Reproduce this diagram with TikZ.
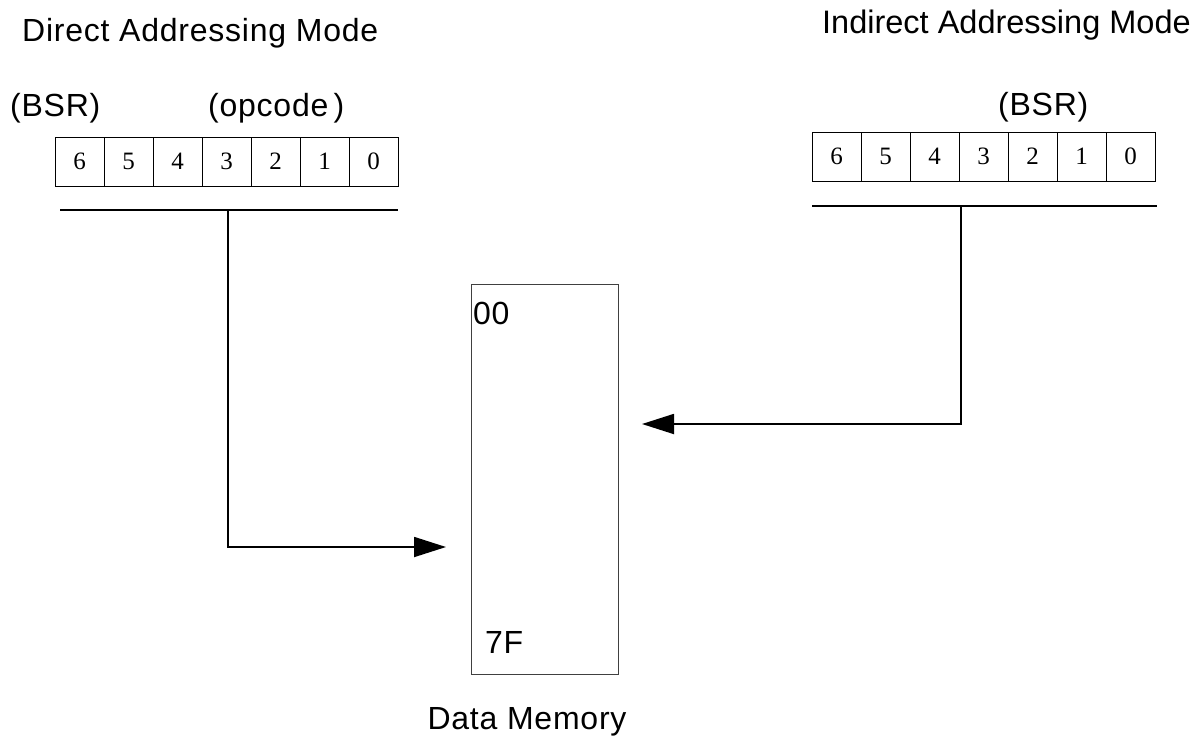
\documentclass[tikz,border=0pt]{standalone}
\usepackage{fontspec}
\setmainfont{Liberation Sans}
\newfontfamily\lblfont[LetterSpace=2.4]{Liberation Sans}
\newfontfamily\digitfont{Liberation Serif}
\usetikzlibrary{arrows.meta}
\begin{document}
\begin{tikzpicture}[x=1pt,y=-1pt,
  lbl/.style={inner sep=0pt,font=\lblfont\fontsize{32}{36}\selectfont},
  lblplain/.style={inner sep=0pt,font=\fontsize{32.5}{36}\selectfont},
  cell/.style={draw,line width=0.9pt,minimum width=49pt,minimum height=49pt,inner sep=0pt,font=\digitfont\fontsize{25}{28}\selectfont},
  bar/.style={line width=2pt},
  conn/.style={line width=1.8pt,-{Triangle[length=32pt,width=20pt]}},
  mem/.style={draw=black!75,line width=1pt,minimum width=147pt,minimum height=390pt,inner sep=0pt}]
\useasboundingbox (0,0) rectangle (1204,737);
% titles
\node[lbl,anchor=west] (t1) at (22,33) {Direct Addressing Mode};
\node[lblplain,anchor=west] (t2) at (822,25) {Indirect Addressing Mode};
% left register
\node[lbl,anchor=west] (bsr1) at (10,108) {(BSR)};
\node[lbl,anchor=west] (opc) at (208,108) {(opcode\,)};
\foreach \b [count=\i from 0] in {6,5,4,3,2,1,0}{
  \node[cell] (L\b) at (79.5+49*\i,161.5) {\b};
}
\coordinate (lbarA) at (60,210);
\coordinate (lbarB) at (398,210);
\coordinate (lbarT) at (228,210);
\draw[bar] (lbarA) -- (lbarB);
% right register
\node[lbl,anchor=west] (bsr2) at (998,107) {(BSR)};
\foreach \b [count=\i from 0] in {6,5,4,3,2,1,0}{
  \node[cell] (R\b) at (836.5+49*\i,156.5) {\b};
}
\coordinate (rbarA) at (812,206);
\coordinate (rbarB) at (1157,206);
\coordinate (rbarT) at (961,206);
\draw[bar] (rbarA) -- (rbarB);
% memory
\node[mem] (memory) at (544.5,479) {};
\node[lbl,anchor=west] (m00) at (473,313) {00};
\node[lbl,anchor=west] (m7f) at (485,642) {7F};
\node[lbl] (dm) at (527,722) {Data Memory};
% connectors
\coordinate (ltip) at (446,547);
\coordinate (rtip) at (642,424);
\draw[conn] (lbarT) |- (ltip);
\draw[conn] (rbarT) |- (rtip);
\end{tikzpicture}
\end{document}
